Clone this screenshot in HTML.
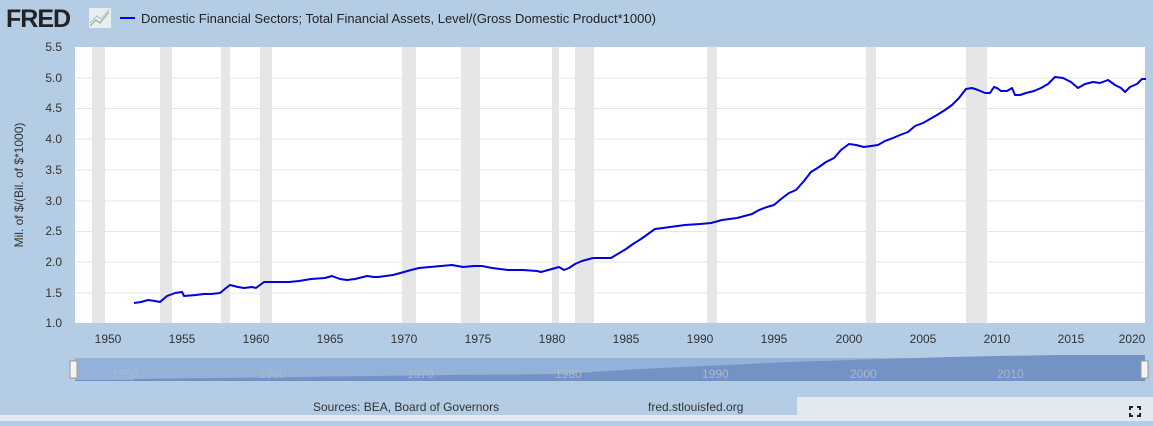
<!DOCTYPE html>
<html><head><meta charset="utf-8"><style>
body{margin:0;width:1153px;height:421px;overflow:hidden;background:#b4cde4;font-family:"Liberation Sans",sans-serif}
</style></head><body>
<svg width="1153" height="421" xmlns="http://www.w3.org/2000/svg" font-family="Liberation Sans, sans-serif">
<rect width="1153" height="421" fill="#b4cde4"/>
<rect x="0" y="415" width="1153" height="6" fill="#e1e9f1"/>
<rect x="797" y="397" width="356" height="24" fill="#e1e9f1"/>
<text x="6" y="27" font-size="25" font-weight="bold" fill="#222" letter-spacing="-1">FRED</text>
<rect x="89" y="8" width="22" height="20" fill="#e8eef2"/>
<polyline points="90,26 96,20 100,23 109,12" fill="none" stroke="#9ab37a" stroke-width="1.2"/>
<polyline points="90,23 97,16 101,19 109,9" fill="none" stroke="#aac0cf" stroke-width="1"/>
<line x1="120" y1="18" x2="135" y2="18" stroke="#0000e0" stroke-width="2"/>
<text x="141" y="23" font-size="13" fill="#222">Domestic Financial Sectors; Total Financial Assets, Level/(Gross Domestic Product*1000)</text>
<rect x="75" y="47" width="1070" height="276" fill="#fff"/>
<g fill="#e6e6e6">
<rect x="92" y="47" width="13" height="276"/><rect x="160" y="47" width="12" height="276"/>
<rect x="221" y="47" width="9" height="276"/><rect x="260" y="47" width="12" height="276"/>
<rect x="402" y="47" width="14" height="276"/><rect x="461" y="47" width="19" height="276"/>
<rect x="552" y="47" width="7" height="276"/><rect x="575" y="47" width="19" height="276"/>
<rect x="707" y="47" width="10" height="276"/><rect x="866" y="47" width="10" height="276"/>
<rect x="966" y="47" width="21" height="276"/>
</g>
<g stroke="#e6e6e6" stroke-width="1">
<line x1="75" y1="78" x2="1145" y2="78"/><line x1="75" y1="108.5" x2="1145" y2="108.5"/>
<line x1="75" y1="139" x2="1145" y2="139"/><line x1="75" y1="170" x2="1145" y2="170"/>
<line x1="75" y1="201" x2="1145" y2="201"/><line x1="75" y1="231.5" x2="1145" y2="231.5"/>
<line x1="75" y1="262" x2="1145" y2="262"/><line x1="75" y1="293" x2="1145" y2="293"/>
</g>
<g font-size="12" fill="#333" text-anchor="end">
<text x="62" y="51">5.5</text><text x="62" y="82">5.0</text><text x="62" y="112">4.5</text>
<text x="62" y="143">4.0</text><text x="62" y="174">3.5</text><text x="62" y="205">3.0</text>
<text x="62" y="235">2.5</text><text x="62" y="266">2.0</text><text x="62" y="297">1.5</text>
<text x="62" y="327">1.0</text>
</g>
<text transform="translate(23,185) rotate(-90)" font-size="12" fill="#333" text-anchor="middle">Mil. of $/(Bil. of $*1000)</text>
<g font-size="12" fill="#333" text-anchor="middle">
<text x="108" y="343">1950</text><text x="182" y="343">1955</text><text x="256" y="343">1960</text>
<text x="330" y="343">1965</text><text x="404" y="343">1970</text><text x="478" y="343">1975</text>
<text x="552" y="343">1980</text><text x="626" y="343">1985</text><text x="700" y="343">1990</text>
<text x="774" y="343">1995</text><text x="849" y="343">2000</text><text x="923" y="343">2005</text>
<text x="997" y="343">2010</text><text x="1071" y="343">2015</text><text x="1132" y="343">2020</text>
</g>
<polyline fill="none" stroke="#0000e0" stroke-width="2" stroke-linejoin="round" points="
134,303 141,302 148,300 155,301 160,302 167,296 175,293 182,292 184,296 196,295 204,294 211,294 220,293 226,288 230,285 238,287 244,288 252,287 256,288 264,282 270,282 281,282 289,282 299,281 311,279 325,278 332,276 340,279 347,280 355,279 367,276 374,277 378,277 393,275 404,272 411,270 419,268 430,267 441,266 452,265 463,267 474,266 482,266 492,268 508,270 523,270 537,271 541,272 552,269 559,267 564,270 569,268 575,264 582,261 593,258 604,258 611,258 626,249 633,244 641,239 648,234 655,229 663,228 670,227 685,225 700,224 711,223 722,220 737,218 752,214 759,210 767,207 774,205 781,199 789,193 796,190 804,181 811,172 819,167 826,162 834,158 841,150 849,144 856,145 864,147 871,146 878,145 885,141 893,138 900,135 908,132 915,126 923,123 930,119 937,115 945,110 952,105 959,98 966,89 972,88 978,90 985,93 990,93 994,87 997,88 1001,91 1007,91 1012,88 1015,95 1020,95 1026,93 1034,91 1041,88 1048,84 1055,77 1063,78 1071,82 1078,88 1085,84 1093,82 1100,83 1108,80 1115,85 1121,88 1125,92 1130,87 1137,84 1142,79 1146,79"/>
<rect x="75" y="358" width="1070" height="23" fill="#94b2d8"/>
<path d="M134,381 L134,379 300,377 450,375 560,374 640,369 790,362 850,360 950,357 997,356 1060,355 1145,355 L1145,381 Z" fill="#7393c4"/>
<line x1="75" y1="380.5" x2="1145" y2="380.5" stroke="#6f90c4"/>
<g font-size="12" fill="#aab8cc"><text x="112" y="378">1950</text><text x="259" y="378">1960</text><text x="407" y="378">1970</text><text x="555" y="378">1980</text><text x="702" y="378">1990</text><text x="850" y="378">2000</text><text x="997" y="378">2010</text></g>
<rect x="70" y="361" width="7" height="17" fill="#f4f4f4" stroke="#999"/>
<rect x="1141" y="361" width="7" height="17" fill="#f4f4f4" stroke="#999"/>
<text x="313" y="411" font-size="12" fill="#333">Sources: BEA, Board of Governors</text>
<text x="648" y="411" font-size="12" fill="#333">fred.stlouisfed.org</text>
<g stroke="#222" stroke-width="2" fill="none">
<path d="M1130,410 v-3 h3"/><path d="M1137,407 h3 v3"/><path d="M1130,413 v3 h3"/><path d="M1137,416 h3 v-3"/>
</g>
</svg>
</body></html>
